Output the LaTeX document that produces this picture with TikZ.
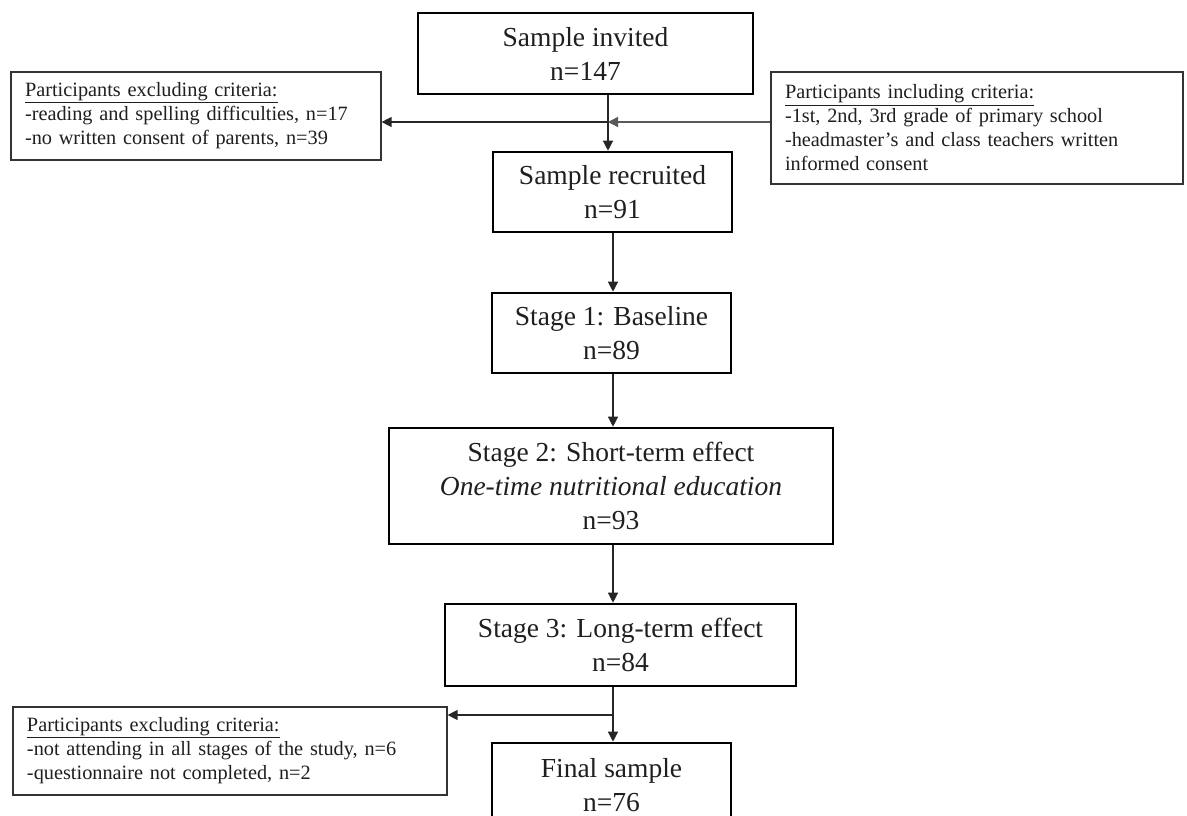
\documentclass[tikz,border=0pt]{standalone}
\usepackage{fontspec}
\setmainfont{Liberation Serif}
\usetikzlibrary{arrows.meta}
\begin{document}
\begin{tikzpicture}[x=1pt,y=-1pt,
  mainbox/.style={draw=black, line width=2.6pt, inner sep=0pt, align=center,
    font=\fontsize{27.5}{34}\selectfont, text=black!88},
  critbox/.style={draw=black!80, line width=1.2pt, inner xsep=14pt, inner ysep=0pt,
    align=left, font=\fontsize{20.3}{24}\selectfont, text=black!88},
  flow/.style={draw=black!85, line width=1.3pt, -{Triangle[length=10pt,width=10pt]}},
  grayflow/.style={draw=black!65, line width=1.3pt, -{Triangle[length=10pt,width=10pt]}}
]
\useasboundingbox (0,0) rectangle (1187,816);
\fill[white] (0,0) rectangle (1187,816);
\clip (0,0) rectangle (1187,816);

% main boxes
\node[mainbox, minimum width=335pt, minimum height=81pt] (invited) at (585.5,53.5) {Sample invited\\n=147};
\node[mainbox, minimum width=239pt, minimum height=80pt] (recruited) at (612.5,192) {Sample recruited\\n=91};
\node[mainbox, minimum width=239pt, minimum height=80pt] (stage1) at (611.5,333) {Stage 1: Baseline\\n=89};
\node[mainbox, minimum width=444pt, minimum height=116pt] (stage2) at (611,486) {Stage 2: Short-term effect\\\textit{One-time nutritional education}\\n=93};
\node[mainbox, minimum width=351pt, minimum height=82pt] (stage3) at (620.5,645) {Stage 3: Long-term effect\\n=84};
\node[mainbox, minimum width=239pt, minimum height=85pt] (final) at (611.5,785.5) {Final sample\\n=76};

% criteria boxes
\node[critbox, text width=342pt, minimum height=88pt] (exclA) at (196,116)
  {\underline{Participants excluding criteria:}\\-reading and spelling difficulties, n=17\\-no written consent of parents, n=39};
\node[critbox, text width=384pt, minimum height=112pt] (inclA) at (977,128)
  {\underline{Participants including criteria:}\\-1st, 2nd, 3rd grade of primary school\\-headmaster’s and class teachers written\\informed consent};
\node[critbox, text width=406pt, minimum height=88pt] (exclB) at (230,751)
  {\underline{Participants excluding criteria:}\\-not attending in all stages of the study, n=6\\-questionnaire not completed, n=2};

% junctions
\coordinate (j1) at (608,122);
\coordinate (ax) at (613,0);
\coordinate (j2) at (613,715);

% connectors
\draw[flow] (invited.south -| j1) -- (recruited.north -| j1);
\draw[flow] (j1) -- (exclA.east |- j1);
\draw[grayflow] (inclA.west |- j1) -- (j1);
\draw[flow] (recruited.south -| ax) -- (stage1.north -| ax);
\draw[flow] (stage1.south -| ax) -- (stage2.north -| ax);
\draw[flow] (stage2.south -| ax) -- (stage3.north -| ax);
\draw[flow] (stage3.south -| ax) -- (final.north -| ax);
\draw[flow] (j2) -- (exclB.east |- j2);
\end{tikzpicture}
\end{document}
